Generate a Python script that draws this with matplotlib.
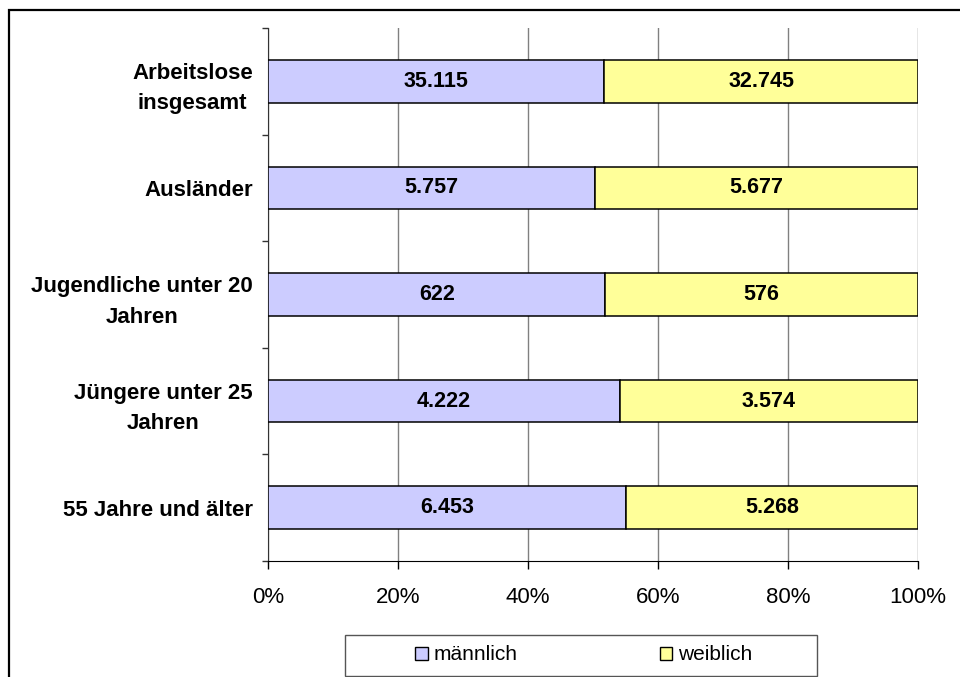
import matplotlib.pyplot as plt
import matplotlib.patches as patches
import numpy as np

plt.rcParams['font.family'] = ['Liberation Sans', 'DejaVu Sans']

# data
categories = ['Arbeitslose\ninsgesamt', 'Ausländer', 'Jugendliche unter 20\nJahren',
              'Jüngere unter 25\nJahren', '55 Jahre und älter']
maennlich = [35115, 5757, 622, 4222, 6453]
weiblich = [32745, 5677, 576, 3574, 5268]
series_names = ['männlich', 'weiblich']
colors = ['#CCCCFF', '#FFFF99']
xticks = [0, 20, 40, 60, 80, 100]


def fmt(v):
    return f'{v:,}'.replace(',', '.')


m = np.array(maennlich, dtype=float)
w = np.array(weiblich, dtype=float)
tot = m + w
mp = m / tot * 100
wp = w / tot * 100
y = np.arange(len(categories))

fig = plt.figure(figsize=(9.6, 6.77), dpi=100)
ax = fig.add_axes([268 / 960, 1 - 561 / 677, 650 / 960, 533 / 677])

# outer frame of the figure (runs off right and bottom edge)
fig.patches.append(patches.Rectangle((9 / 960, -0.05), 1.1, 1 - 10 / 677 + 0.05,
                                     transform=fig.transFigure, fill=False,
                                     edgecolor='black', linewidth=1.6, zorder=0))

ax.barh(y, mp, height=0.4, color=colors[0], edgecolor='black', linewidth=1.1,
        label=series_names[0], zorder=3)
ax.barh(y, wp, left=mp, height=0.4, color=colors[1], edgecolor='black', linewidth=1.1,
        label=series_names[1], zorder=3)

for i in range(len(categories)):
    ax.text(mp[i] / 2, y[i], fmt(maennlich[i]), ha='center', va='center',
            fontsize=15.5, fontweight='bold', zorder=4)
    ax.text(mp[i] + wp[i] / 2, y[i], fmt(weiblich[i]), ha='center', va='center',
            fontsize=15.5, fontweight='bold', zorder=4)

ax.set_xlim(0, 100)
ax.set_ylim(len(categories) - 0.5, -0.5)
ax.set_xticks(xticks)
ax.set_xticklabels([f'{t}%' for t in xticks], fontsize=16)
ax.tick_params(axis='x', length=6, width=1, color='black', pad=13)

ax.set_yticks(np.arange(-0.5, len(categories)), minor=False)
ax.set_yticklabels([''] * (len(categories) + 1))
ax.set_yticks(y, minor=True)
ax.set_yticklabels(categories, minor=True, fontsize=16, fontweight='bold',
                   multialignment='center', linespacing=1.6)
ax.tick_params(axis='y', which='major', length=4, width=1, color='#333333')
ax.tick_params(axis='y', which='minor', length=0, pad=11)

ax.grid(axis='x', color='#808080', linewidth=1, zorder=0)
ax.set_axisbelow(True)
for s in ['top', 'right']:
    ax.spines[s].set_visible(False)
ax.spines['left'].set_color('#333333')
ax.spines['bottom'].set_color('black')

# legend box
fig.patches.append(patches.Rectangle((345 / 960, 1 - 676 / 677), 472 / 960, 41 / 677,
                                     transform=fig.transFigure, fill=False,
                                     edgecolor='#555555', linewidth=1, zorder=1))
handles = [patches.Patch(facecolor=colors[0], edgecolor='black', linewidth=1),
           patches.Patch(facecolor=colors[1], edgecolor='black', linewidth=1)]
leg = fig.legend(handles, series_names, loc='center',
                 bbox_to_anchor=(584 / 960, 1 - 655 / 677),
                 ncol=2, fontsize=15, frameon=False,
                 handlelength=0.6, handleheight=0.6, handletextpad=0.3,
                 columnspacing=6.8, borderpad=0)

fig.savefig('out.png', dpi=100)
